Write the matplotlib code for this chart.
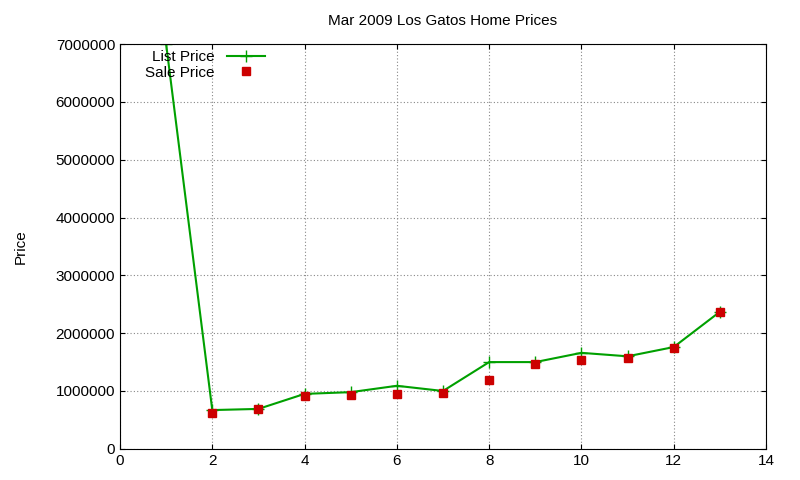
import matplotlib
matplotlib.use("Agg")
import matplotlib.pyplot as plt

plt.rcParams['font.family'] = ['Liberation Sans', 'DejaVu Sans']

x_list = [1, 2, 3, 4, 5, 6, 7, 8, 9, 10, 11, 12, 13]
list_price = [7000000, 670000, 690000, 950000, 980000, 1090000, 1000000, 1500000, 1500000, 1660000, 1600000, 1760000, 2370000]
x_sale = [2, 3, 4, 5, 6, 7, 8, 9, 10, 11, 12, 13]
sale_price = [620000, 690000, 920000, 930000, 950000, 960000, 1190000, 1470000, 1540000, 1570000, 1750000, 2360000]

fig = plt.figure(figsize=(8, 4.8), dpi=100)
ax = fig.add_axes([0.15, 0.065, 0.8075, 0.843])
ax.plot(x_list, list_price, color="#00a000", marker="+", markersize=8, lw=1.5, label="List Price")
ax.plot(x_sale, sale_price, color="#cc0000", marker="s", markersize=5.5, ls="none", label="Sale Price")
ax.set_xlim(0, 14)
ax.set_ylim(0, 7000000)
ax.set_xticks(range(0, 15, 2))
ax.set_yticks(range(0, 7000001, 1000000))
ax.ticklabel_format(style="plain", axis="y")
ax.grid(True, color="#888888", ls=(0, (1, 2)), lw=0.8)
ax.tick_params(direction="in", labelsize=11, top=True, right=True)
ax.set_ylabel("Price", fontsize=11, labelpad=20)
ax.set_title("Mar 2009 Los Gatos Home Prices", fontsize=11, pad=14)
leg = ax.legend(loc="upper left", frameon=False, markerfirst=False, fontsize=11,
                borderaxespad=0.0, handlelength=2.5, labelspacing=0.1, bbox_to_anchor=(0.03, 1.0))
fig.savefig("out.png")
